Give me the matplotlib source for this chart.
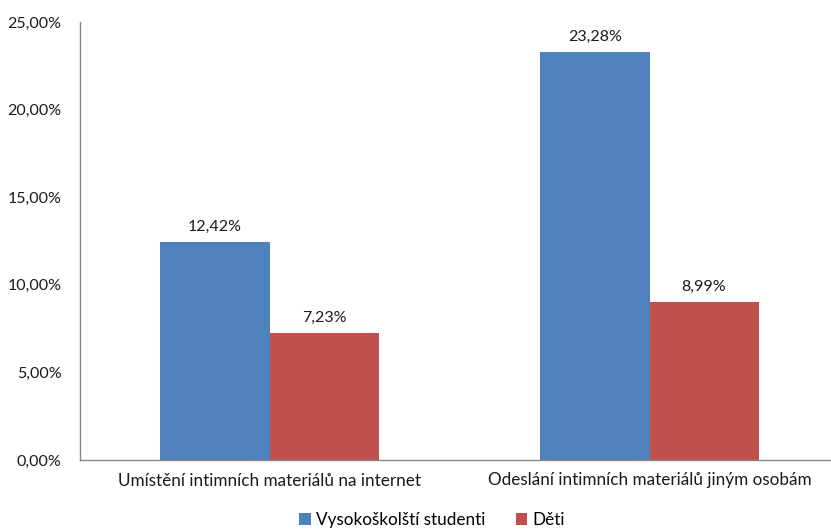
import numpy as np
import matplotlib.pyplot as plt
from matplotlib.ticker import FuncFormatter

categories = ["Umístění intimních materiálů na internet",
              "Odeslání intimních materiálů jiným osobám"]
studenti = [12.42, 23.28]
deti = [7.23, 8.99]
series_names = ["Vysokoškolští studenti", "Děti"]

plt.rcParams['font.family'] = ['Lato', 'DejaVu Sans']

W, H = 831, 530
fig = plt.figure(figsize=(W / 100, H / 100), dpi=100)
ax = fig.add_axes([79.5 / W, 70 / H, 760 / W, 438 / H])

x = np.arange(len(categories))
bw = 0.287
b1 = ax.bar(x - bw / 2, studenti, bw, color='#4F81BD', label=series_names[0])
b2 = ax.bar(x + bw / 2, deti, bw, color='#C0504D', label=series_names[1])

def pct(v):
    return f"{v:.2f}%".replace('.', ',')

for bars, vals in ((b1, studenti), (b2, deti)):
    for rect, v in zip(bars, vals):
        ax.annotate(pct(v), (rect.get_x() + rect.get_width() / 2, v),
                    xytext=(0, 6), textcoords='offset points',
                    ha='center', va='bottom', fontsize=11.5, color='#1a1a1a')

ax.set_xlim(-0.5, 1.5)
ax.set_ylim(0, 25)
ax.set_yticks(np.arange(0, 26, 5))
ax.yaxis.set_major_formatter(FuncFormatter(lambda v, p: pct(v)))
ax.set_xticks(x)
ax.set_xticklabels(categories)
ax.tick_params(length=0, labelsize=11.5, colors='#1a1a1a')
ax.tick_params(axis='x', labelsize=12.3)
ax.tick_params(axis='y', pad=13)
ax.tick_params(axis='x', pad=9)

for s in ('top', 'right'):
    ax.spines[s].set_visible(False)
for s in ('left', 'bottom'):
    ax.spines[s].set_color('#868686')
    ax.spines[s].set_linewidth(1)

fig.legend(loc='center', bbox_to_anchor=(432 / W, 1 - 520 / H), ncol=2,
           frameon=False, fontsize=12.3, handlelength=0.65, handleheight=0.65,
           handletextpad=0.3, columnspacing=1.8)

fig.savefig('out.png', dpi=100)
